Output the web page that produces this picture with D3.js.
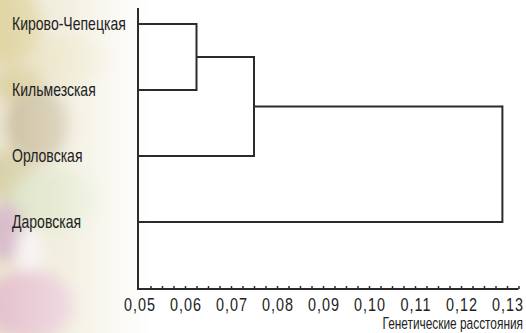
<!DOCTYPE html>
<html>
<head>
<meta charset="utf-8">
<script src="https://cdn.jsdelivr.net/npm/d3@7"></script>
<style>
  body { margin: 0; background: #fff; }
  text { font-family: "Liberation Sans", Arial, sans-serif; fill: #222; }
</style>
</head>
<body>
<div id="chart"></div>
<script>
const leaves = ['Кирово-Чепецкая', 'Кильмезская', 'Орловская', 'Даровская'];
// linkage: [left, right, distance]; indices >= leaves.length are earlier merges
const merges = [
  [0, 1, 0.0625],
  [4, 2, 0.075],
  [5, 3, 0.129]
];
const xTicks = [0.05, 0.06, 0.07, 0.08, 0.09, 0.10, 0.11, 0.12, 0.13];
const xTitle = 'Генетические расстояния';

const width = 526, height = 333;

const svg = d3.select('#chart').append('svg')
  .attr('width', width)
  .attr('height', height);

// faded photo backdrop on the left
const defs = svg.append('defs');
const fade = defs.append('linearGradient').attr('id', 'fade');
fade.append('stop').attr('offset', '0%').attr('stop-color', '#fff').attr('stop-opacity', 0.9);
fade.append('stop').attr('offset', '40%').attr('stop-color', '#fff').attr('stop-opacity', 0.6);
fade.append('stop').attr('offset', '100%').attr('stop-color', '#fff').attr('stop-opacity', 0);
defs.append('mask').attr('id', 'fadeMask')
  .append('rect').attr('width', 150).attr('height', height).attr('fill', 'url(#fade)');
defs.append('filter').attr('id', 'blur')
  .append('feGaussianBlur').attr('stdDeviation', 7);

const bg = svg.append('g').attr('mask', 'url(#fadeMask)');
const g2 = bg.append('g').attr('filter', 'url(#blur)');
g2.append('rect').attr('x', -20).attr('y', -20).attr('width', 180).attr('height', 373).attr('fill', '#e9e3ca');
const blobs = [
  { cx: 8, cy: 25, rx: 35, ry: 40, c: '#ddd09a' },
  { cx: 70, cy: 60, rx: 40, ry: 25, c: '#e4dbb4' },
  { cx: 20, cy: 85, rx: 25, ry: 20, c: '#d9cc98' },
  { cx: 38, cy: 125, rx: 32, ry: 38, c: '#c6b894' },
  { cx: 8, cy: 175, rx: 28, ry: 25, c: '#d4cca2' },
  { cx: 55, cy: 200, rx: 45, ry: 30, c: '#d8dfbc' },
  { cx: 6, cy: 232, rx: 18, ry: 30, c: '#d3b4c4' },
  { cx: 30, cy: 255, rx: 14, ry: 28, c: '#f4f0ee' },
  { cx: 30, cy: 305, rx: 45, ry: 35, c: '#e2bcc8' }
];
g2.selectAll('ellipse').data(blobs).enter().append('ellipse')
  .attr('cx', d => d.cx).attr('cy', d => d.cy)
  .attr('rx', d => d.rx).attr('ry', d => d.ry)
  .attr('fill', d => d.c);

const x = d3.scaleLinear().domain([0.05, 0.1325]).range([139, 518.5]);
const y = d3.scalePoint().domain(leaves).range([24, 222]);

// build node positions from the linkage
const nodes = leaves.map(name => ({ name, d: 0.05, y: y(name) }));
merges.forEach(([a, b, dist]) => {
  nodes.push({ a: nodes[a], b: nodes[b], d: dist, y: (nodes[a].y + nodes[b].y) / 2 });
});

const links = svg.append('g')
  .attr('fill', 'none')
  .attr('stroke', '#2b2b2b')
  .attr('stroke-width', 2);

nodes.filter(n => n.a).forEach(n => {
  [n.a, n.b].forEach(c => {
    links.append('path')
      .attr('d', `M${x(c.d)},${c.y}H${x(n.d)}`);
  });
  links.append('path')
    .attr('d', `M${x(n.d)},${n.a.y - 1}V${n.b.y + 1}`);
});

// leaf labels (squeezed horizontally to mimic a condensed face)
svg.append('g').selectAll('text')
  .data(leaves).enter().append('text')
  .attr('transform', d => `translate(12,${y(d) + 6}) scale(0.78,1)`)
  .attr('font-size', 18)
  .text(d => d);

// axes
const axisY = 289;
svg.append('line')
  .attr('x1', x(0.05) - 1).attr('x2', x(0.05) - 1)
  .attr('y1', 8).attr('y2', axisY)
  .attr('stroke', '#2b2b2b').attr('stroke-width', 2);

const xAxis = d3.axisBottom(x)
  .tickValues(d3.range(0.0525, 0.1326, 0.0025))
  .tickSize(-3)
  .tickFormat('');

const ax = svg.append('g')
  .attr('transform', `translate(0,${axisY})`)
  .call(xAxis);
ax.select('.domain').attr('stroke', '#2b2b2b').attr('stroke-width', 2)
  .attr('d', `M${x(0.05) - 2},0H${x(0.1325)}`);
ax.selectAll('.tick line').attr('stroke', '#2b2b2b').attr('stroke-width', 1.5);

svg.append('g').selectAll('text')
  .data(xTicks).enter().append('text')
  .attr('transform', d => `translate(${x(d) + 1},311) scale(0.8,1)`)
  .attr('text-anchor', 'middle')
  .attr('font-size', 18)
  .attr('letter-spacing', 1.2)
  .text(d => d3.format('.2f')(d).replace('.', ','));

svg.append('text')
  .attr('transform', 'translate(523,329) scale(0.72,1)')
  .attr('text-anchor', 'end')
  .attr('font-size', 16.5)
  .text(xTitle);
</script>
</body>
</html>
